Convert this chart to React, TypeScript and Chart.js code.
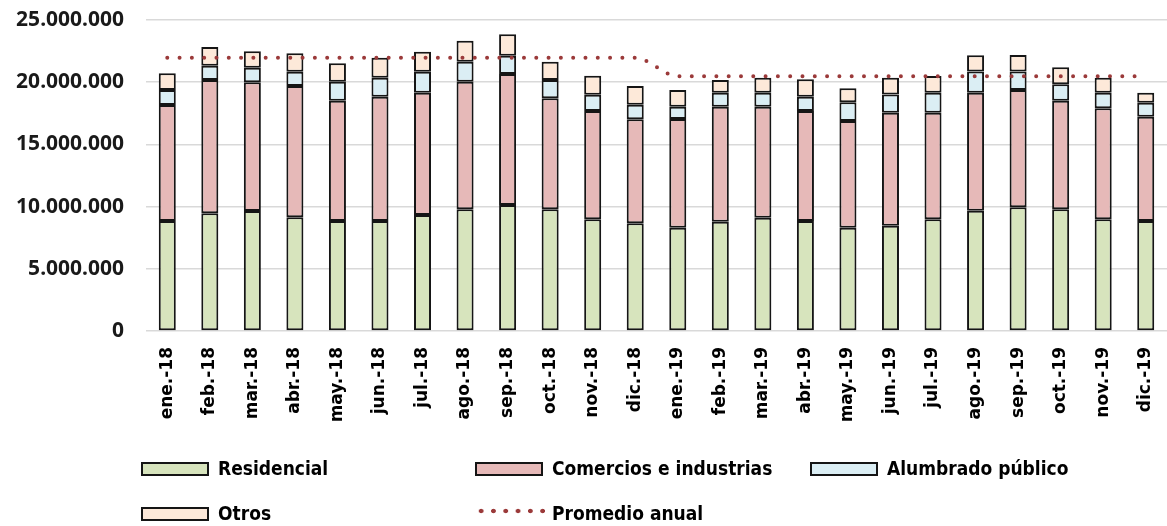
import React, { useEffect, useRef } from "react";
import { Chart, registerables } from "chart.js";

Chart.register(...registerables);

const categories = [
  "ene.-18", "feb.-18", "mar.-18", "abr.-18", "may.-18", "jun.-18",
  "jul.-18", "ago.-18", "sep.-18", "oct.-18", "nov.-18", "dic.-18",
  "ene.-19", "feb.-19", "mar.-19", "abr.-19", "may.-19", "jun.-19",
  "jul.-19", "ago.-19", "sep.-19", "oct.-19", "nov.-19", "dic.-19",
];

const residencial = [
  8840000, 9460000, 9650000, 9140000, 8840000, 8840000,
  9320000, 9780000, 10130000, 9780000, 8980000, 8660000,
  8300000, 8790000, 9110000, 8840000, 8300000, 8460000,
  8980000, 9670000, 9940000, 9780000, 8980000, 8840000,
];

const comercios = [
  9330000, 10720000, 10340000, 10550000, 9670000, 10000000,
  9840000, 10260000, 10530000, 8920000, 8700000, 8360000,
  8740000, 9240000, 8920000, 8840000, 8580000, 9090000,
  8570000, 9490000, 9430000, 8730000, 8920000, 8390000,
];

const alumbrado = [
  1200000, 1150000, 1180000, 1160000, 1530000, 1520000,
  1690000, 1610000, 1470000, 1480000, 1320000, 1170000,
  990000, 1130000, 1130000, 1160000, 1500000, 1470000,
  1610000, 1710000, 1500000, 1320000, 1260000, 1120000,
];

const otros = [
  1340000, 1500000, 1310000, 1470000, 1480000, 1610000,
  1600000, 1690000, 1720000, 1470000, 1520000, 1500000,
  1340000, 1020000, 1200000, 1390000, 1130000, 1340000,
  1340000, 1290000, 1320000, 1370000, 1200000, 810000,
];

const promedioAnual = [
  21960000, 21960000, 21960000, 21960000, 21960000, 21960000,
  21960000, 21960000, 21960000, 21960000, 21960000, 21960000,
  20480000, 20480000, 20480000, 20480000, 20480000, 20480000,
  20480000, 20480000, 20480000, 20480000, 20480000, 20480000,
];

const yTicks = [0, 5000000, 10000000, 15000000, 20000000, 25000000];

const seriesNames = ["Residencial", "Comercios e industrias", "Alumbrado público", "Otros", "Promedio anual"];
const seriesColors = ["#D7E4BD", "#E6B9B8", "#DBEEF4", "#FDE9D9", "#9B3A3A"];

const fmt = (v: number) => String(Math.round(v)).replace(/\B(?=(\d{3})+(?!\d))/g, ".");

export default function App() {
  const ref = useRef<HTMLCanvasElement | null>(null);

  useEffect(() => {
    if (!ref.current) return;
    const barSeries = [residencial, comercios, alumbrado, otros];
    const chart = new Chart(ref.current, {
      type: "bar",
      data: {
        labels: categories,
        datasets: [
          ...barSeries.map((d, i) => ({
            type: "bar" as const,
            label: seriesNames[i],
            data: d,
            backgroundColor: seriesColors[i],
            borderColor: "#151515",
            borderWidth: 2,
            borderSkipped: false as const,
            barPercentage: 0.4,
            categoryPercentage: 1,
            order: 2,
          })),
          {
            type: "line" as const,
            label: seriesNames[4],
            data: promedioAnual,
            borderColor: seriesColors[4],
            borderWidth: 4,
            borderDash: [0, 12.3],
            borderCapStyle: "round" as const,
            pointRadius: 0,
            fill: false,
            cubicInterpolationMode: "monotone" as const,
            stack: "avg",
            order: 1,
          },
        ],
      },
      options: {
        responsive: false,
        animation: false,
        layout: { padding: { top: 20, bottom: 85, left: 0, right: 0 } },
        plugins: { legend: { display: false }, tooltip: { enabled: false } },
        scales: {
          x: {
            stacked: true,
            grid: { display: false, drawTicks: false },
            border: { display: false },
            ticks: {
              minRotation: 90,
              maxRotation: 90,
              padding: 16,
              color: "#000000",
              font: { family: "DejaVu Sans", size: 17, weight: "bold" },
            },
            afterFit: (s: any) => {
              s.height = 110;
              s.paddingLeft = 0;
              s.paddingRight = 0;
            },
          },
          y: {
            stacked: true,
            min: 0,
            max: 25000000,
            afterBuildTicks: (s: any) => {
              s.ticks = yTicks.map((v) => ({ value: v }));
            },
            grid: { color: "#D9D9D9", lineWidth: 1.5, drawTicks: false },
            border: { display: false },
            ticks: {
              padding: 22,
              color: "#1a1a1a",
              font: { family: "Noto Sans", size: 21, weight: "bold" },
              callback: (v: any) => fmt(Number(v)),
            },
            afterFit: (s: any) => {
              s.width = 146;
              s.paddingTop = 0;
              s.paddingBottom = 0;
            },
          },
        },
      },
    });
    return () => chart.destroy();
  }, []);

  const legendFont: React.CSSProperties = {
    position: "absolute",
    fontFamily: "'DejaVu Sans Condensed', 'DejaVu Sans'",
    fontStretch: "condensed",
    fontWeight: "bold",
    fontSize: 19,
    color: "#000",
    lineHeight: "22px",
    whiteSpace: "nowrap",
  };
  const cols = [141, 475, 810];
  const rows = [469, 514];
  const items = [
    { i: 0, c: 0, r: 0 },
    { i: 1, c: 1, r: 0 },
    { i: 2, c: 2, r: 0 },
    { i: 3, c: 0, r: 1 },
    { i: 4, c: 1, r: 1 },
  ];

  return (
    <div style={{ position: "absolute", left: 0, top: 0, width: 1167, height: 526, background: "#fff" }}>
      <canvas ref={ref} width={1167} height={526} style={{ display: "block" }} />
      {items.map(({ i, c, r }) => (
        <React.Fragment key={i}>
          {i < 4 ? (
            <div
              style={{
                position: "absolute",
                left: cols[c],
                top: rows[r] - 7,
                width: 68,
                height: 14,
                boxSizing: "border-box",
                border: "2px solid #151515",
                background: seriesColors[i],
              }}
            />
          ) : (
            <div
              style={{
                position: "absolute",
                left: cols[c],
                top: rows[r] - 7,
                width: 70,
                height: 8,
                backgroundImage: `radial-gradient(circle, ${seriesColors[4]} 2px, transparent 2.6px)`,
                backgroundSize: "12.3px 8px",
                backgroundRepeat: "repeat-x",
              }}
            />
          )}
          <div style={{ ...legendFont, left: cols[c] + 77, top: rows[r] - 12 }}>{seriesNames[i]}</div>
        </React.Fragment>
      ))}
    </div>
  );
}
